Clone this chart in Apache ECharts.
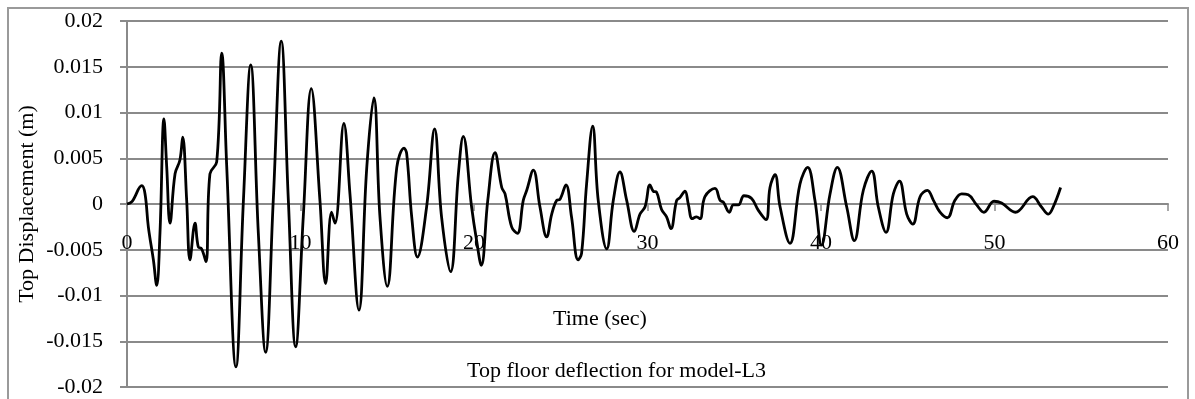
<!DOCTYPE html>
<html>
<head>
<meta charset="utf-8">
<script src="https://cdn.jsdelivr.net/npm/echarts@6/dist/echarts.min.js"></script>
<style>
  html, body { margin: 0; padding: 0; background: #fff; }
  #chart { width: 1195px; height: 399px; }
</style>
</head>
<body>
<div id="chart"></div>
<script>
// time (sec) and top floor displacement (m)
const timeSec = [
    0, 0.3, 0.85, 1.04, 1.23, 1.52, 1.71, 1.9, 2.13, 2.29, 2.48, 2.77, 3.05, 3.21, 3.44, 3.63, 3.92, 4.11, 4.3, 4.55,
    4.78, 5.17, 5.46, 5.75, 6.28, 6.71, 7.13, 7.57, 7.99, 8.43, 8.89, 9.3, 9.72, 10.16, 10.62, 11.12, 11.45, 11.79, 11.99, 12.5,
    12.85, 13.37, 13.82, 14.23, 14.58, 15.0, 15.55, 15.97, 16.12, 16.41, 16.74, 17.27, 17.73, 18.13, 18.65, 19.1, 19.38, 19.86, 20.15, 20.42,
    20.8, 21.21, 21.6, 21.79, 22.17, 22.5, 22.84, 23.04, 23.42, 23.8, 24.19, 24.48, 24.77, 24.95, 25.3, 25.62, 26.0, 26.2, 26.49, 26.84,
    27.16, 27.65, 28.03, 28.41, 28.8, 29.24, 29.57, 29.86, 30.14, 30.33, 30.52, 30.81, 31.1, 31.35, 31.68, 31.87, 32.16, 32.35, 32.58, 32.83,
    33.03, 33.31, 33.89, 34.18, 34.37, 34.72, 34.95, 35.24, 35.56, 36.0, 36.39, 36.83, 37.06, 37.35, 37.64, 38.21, 38.79, 39.23, 39.65, 40.03,
    40.52, 40.94, 41.48, 41.92, 42.44, 42.92, 43.3, 43.75, 44.17, 44.52, 44.94, 45.29, 45.71, 46.13, 46.48, 46.86, 47.28, 47.72, 48.11, 48.49,
    48.97, 49.39, 49.97, 50.41, 51.2, 52.2, 52.7, 53.1, 53.39, 53.81
];
const topDisp = [
    0, 0.0003, 0.0020, 0.0011, -0.0025, -0.0061, -0.0089, -0.0032, 0.0093, 0.0040, -0.0021, 0.0033, 0.0048, 0.0073, 0.0004, -0.0061, -0.0021, -0.0047, -0.0049, -0.0063,
    0.0033, 0.0046, 0.0165, 0.0040, -0.0178, 0.0004, 0.0152, -0.0032, -0.0162, 0.0004, 0.0178, 0.0004, -0.0156, -0.0014, 0.0126, 0.0004, -0.0087, -0.0009, -0.0021, 0.0088,
    0.0011, -0.0116, 0.0040, 0.0116, -0.0014, -0.0090, 0.0040, 0.0061, 0.0055, -0.0014, -0.0058, -0.0003, 0.0082, -0.0014, -0.0074, 0.0033, 0.0074, -0.0003, -0.0040, -0.0067,
    0.0005, 0.0056, 0.0018, 0.0011, -0.0025, -0.0032, 0.0004, 0.0015, 0.0037, -0.0003, -0.0036, -0.0011, 0.0004, 0.0005, 0.0021, -0.0014, -0.0061, -0.0054, 0.0022, 0.0085,
    0.0004, -0.0049, 0.0004, 0.0035, 0.0004, -0.0030, -0.0011, -0.0003, 0.0021, 0.0014, 0.0013, -0.0006, -0.0014, -0.0027, 0.0004, 0.0007, 0.0014, 0.0000, -0.0016, -0.0014,
    -0.0016, 0.0008, 0.0017, 0.0004, 0.0002, -0.0009, -0.0001, -0.0001, 0.0009, 0.0006, -0.0007, -0.0017, 0.0018, 0.0032, -0.0003, -0.0043, 0.0022, 0.0040, 0.0004, -0.0045,
    0.0011, 0.0040, -0.0003, -0.0040, 0.0015, 0.0036, -0.0003, -0.0031, 0.0011, 0.0025, -0.0011, -0.0022, 0.0008, 0.0015, 0.0004, -0.0009, -0.0015, 0.0004, 0.0011, 0.0010,
    -0.0001, -0.0009, 0.0003, 0.0001, -0.0009, 0.0008, -0.0003, -0.0011, -0.0003, 0.0018
];

const chartTitle = 'Top floor deflection for model-L3';
const xName = 'Time (sec)';
const yName = 'Top Displacement (m)';

const font = '"Liberation Serif", "Times New Roman", serif';
const gridColor = '#8a8a8a';

var myChart = echarts.init(document.getElementById('chart'), null, { renderer: 'canvas' });

var option = {
    animation: false,
    backgroundColor: '#fff',
    title: [
        {
            text: chartTitle,
            left: 462, top: 355,
            textStyle: { fontFamily: font, fontSize: 22, fontWeight: 'normal', color: '#000' }
        },
        {
            text: xName,
            left: 548, top: 303,
            textStyle: { fontFamily: font, fontSize: 22, fontWeight: 'normal', color: '#000' }
        }
    ],
    graphic: [
        {
            type: 'rect',
            shape: { x: 8, y: 8, width: 1180, height: 400 },
            style: { fill: 'none', stroke: '#9a9a9a', lineWidth: 2 },
            silent: true
        }
    ],
    grid: { left: 127, right: 27, top: 21, bottom: 12, outerBoundsMode: 'none', containLabel: false },
    xAxis: {
        type: 'value',
        min: 0, max: 60, interval: 10,
        position: 'bottom',
        offset: -183,
        axisLine: { onZero: false, lineStyle: { color: gridColor, width: 2 } },
        axisTick: { show: true, length: 7, lineStyle: { color: gridColor, width: 1.5 } },
        splitLine: { show: false },
        axisLabel: { margin: 28, fontFamily: font, fontSize: 22, color: '#000' }
    },
    yAxis: {
        type: 'value',
        min: -0.02, max: 0.02, interval: 0.005,
        name: yName,
        nameLocation: 'middle',
        nameGap: 89,
        nameMoveOverlap: false,
        nameTextStyle: { fontFamily: font, fontSize: 22, color: '#000' },
        axisLine: { show: true, lineStyle: { color: gridColor, width: 2 } },
        axisTick: { show: true, length: 7, lineStyle: { color: gridColor, width: 2 } },
        splitLine: { show: true, lineStyle: { color: gridColor, width: 2 } },
        axisLabel: { margin: 24, fontFamily: font, fontSize: 22, color: '#000' }
    },
    series: [
        {
            type: 'line',
            data: timeSec.map((t, i) => [t, topDisp[i]]),
            smooth: 0.4,
            showSymbol: false,
            lineStyle: { color: '#000', width: 2.8 }
        }
    ]
};

myChart.setOption(option);
window.addEventListener('resize', myChart.resize);
</script>
</body>
</html>
